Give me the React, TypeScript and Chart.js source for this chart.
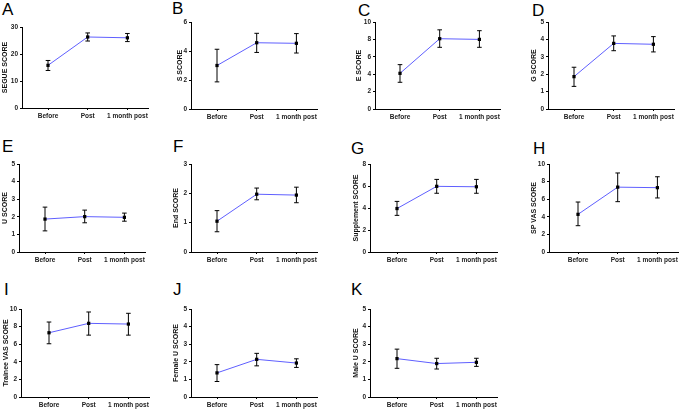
import React, { useEffect, useRef } from "react";
import { Chart, registerables } from "chart.js";

Chart.register(...registerables);

// ---------- data ----------
const categories = ["Before", "Post", "1 month post"];

const segueMean = [15.8, 26.3, 26.0];
const segueLower = [13.9, 24.8, 24.6];
const segueUpper = [17.6, 27.8, 27.6];

const sMean = [3.0, 4.57, 4.53];
const sLower = [1.87, 3.9, 3.86];
const sUpper = [4.12, 5.22, 5.2];

const eMean = [4.1, 8.08, 8.0];
const eLower = [3.07, 7.09, 7.09];
const eUpper = [5.1, 9.1, 9.0];

const gMean = [1.86, 3.77, 3.72];
const gLower = [1.3, 3.35, 3.28];
const gUpper = [2.4, 4.2, 4.16];

const uMean = [1.87, 2.01, 1.97];
const uLower = [1.2, 1.66, 1.75];
const uUpper = [2.55, 2.38, 2.21];

const endMean = [1.05, 1.97, 1.94];
const endLower = [0.69, 1.78, 1.68];
const endUpper = [1.41, 2.18, 2.21];

const suppMean = [3.95, 5.97, 5.93];
const suppLower = [3.33, 5.34, 5.34];
const suppUpper = [4.6, 6.6, 6.6];

const spVasMean = [4.28, 7.37, 7.31];
const spVasLower = [2.99, 5.72, 6.14];
const spVasUpper = [5.68, 8.98, 8.55];

const traineeVasMean = [7.3, 8.37, 8.29];
const traineeVasLower = [6.05, 7.03, 7.03];
const traineeVasUpper = [8.52, 9.66, 9.51];

const femaleUMean = [1.37, 2.14, 1.93];
const femaleULower = [0.88, 1.77, 1.68];
const femaleUUpper = [1.84, 2.48, 2.17];

const maleUMean = [2.18, 1.9, 1.97];
const maleULower = [1.63, 1.59, 1.74];
const maleUUpper = [2.72, 2.2, 2.2];

const panelLetters = ["A", "B", "C", "D", "E", "F", "G", "H", "I", "J", "K"];
const yTitles = [
  "SEGUE SCORE", "S SCORE", "E SCORE", "G SCORE",
  "U SCORE", "End SCORE", "Supplement SCORE", "SP VAS SCORE",
  "Trainee VAS SCORE", "Female U SCORE", "Male U SCORE",
];
const yMaxes = [30, 6, 10, 5, 5, 3, 8, 10, 10, 5, 5];
const ySteps = [10, 2, 2, 1, 1, 1, 2, 2, 2, 1, 1];

const means = [segueMean, sMean, eMean, gMean, uMean, endMean, suppMean, spVasMean, traineeVasMean, femaleUMean, maleUMean];
const lowers = [segueLower, sLower, eLower, gLower, uLower, endLower, suppLower, spVasLower, traineeVasLower, femaleULower, maleULower];
const uppers = [segueUpper, sUpper, eUpper, gUpper, uUpper, endUpper, suppUpper, spVasUpper, traineeVasUpper, femaleUUpper, maleUUpper];

// ---------- layout (page pixels) ----------
const W = 685;
const H = 409;
const CH = 430; // canvas height (extra room below, clipped by container)
const X_AXIS_H = 16;
const SPACING = 39.7;
type Geo = { axisX: number; beforeX: number; top: number; bottom: number; titleX: number; lx: number; ly: number };
const geos: Geo[] = [
  { axisX: 22, beforeX: 48, top: 27, bottom: 108, titleX: 5, lx: 2, ly: 3 },
  { axisX: 191, beforeX: 217, top: 22, bottom: 109, titleX: 180.5, lx: 172, ly: 2 },
  { axisX: 375, beforeX: 400, top: 22, bottom: 109, titleX: 359.3, lx: 358, ly: 4 },
  { axisX: 548, beforeX: 574, top: 22, bottom: 109, titleX: 534, lx: 532, ly: 4 },
  { axisX: 19, beforeX: 45, top: 164, bottom: 252, titleX: 5.3, lx: 2, ly: 140 },
  { axisX: 191, beforeX: 217, top: 164, bottom: 252, titleX: 176, lx: 173, ly: 140 },
  { axisX: 370, beforeX: 397, top: 164, bottom: 252, titleX: 356.3, lx: 351, ly: 142 },
  { axisX: 549, beforeX: 578, top: 164, bottom: 252, titleX: 534.5, lx: 533, ly: 142 },
  { axisX: 21, beforeX: 49, top: 309, bottom: 397, titleX: 5.7, lx: 4, ly: 283 },
  { axisX: 191, beforeX: 217, top: 309, bottom: 397, titleX: 176, lx: 173, ly: 283 },
  { axisX: 370, beforeX: 397, top: 309, bottom: 397, titleX: 356, lx: 351, ly: 283 },
];

const FONT = "'Liberation Sans', Arial, Helvetica, sans-serif";
const LINE_COLOR = "rgb(95,95,255)";

function Panel({ idx }: { idx: number }) {
  const ref = useRef<HTMLCanvasElement | null>(null);
  useEffect(() => {
    const g = geos[idx];
    const xMin = -(g.beforeX - g.axisX) / SPACING;
    const xMax = 2 + 21 / SPACING;
    const right = g.axisX + (xMax - xMin) * SPACING;
    const titleSize = 7;
    const padLeft = g.titleX - titleSize / 2;
    const yWidth = g.axisX - padLeft;
    const lower = lowers[idx];
    const upper = uppers[idx];
    const mean = means[idx];

    const errPlugin = {
      id: "errbars",
      beforeDatasetsDraw(chart: any) {
        const ctx = chart.ctx;
        const xs = chart.scales.x;
        const ys = chart.scales.y;
        ctx.save();
        ctx.strokeStyle = "#000";
        ctx.lineWidth = 1;
        for (let i = 0; i < mean.length; i++) {
          const px = xs.getPixelForValue(i);
          const yl = ys.getPixelForValue(lower[i]);
          const yu = ys.getPixelForValue(upper[i]);
          const cap = 2.3;
          ctx.beginPath();
          ctx.moveTo(px, yl);
          ctx.lineTo(px, yu);
          ctx.moveTo(px - cap, yl);
          ctx.lineTo(px + cap, yl);
          ctx.moveTo(px - cap, yu);
          ctx.lineTo(px + cap, yu);
          ctx.stroke();
        }
        ctx.restore();
      },
    };

    const chart = new Chart(ref.current as HTMLCanvasElement, {
      type: "line",
      data: {
        datasets: [
          {
            data: mean.map((v, i) => ({ x: i, y: v })),
            borderColor: LINE_COLOR,
            borderWidth: 1,
            pointStyle: "rect",
            pointRadius: 2.3,
            pointBackgroundColor: "#000",
            pointBorderColor: "#000",
            pointBorderWidth: 0,
            tension: 0,
            clip: false as any,
          },
        ],
      },
      options: {
        animation: false,
        responsive: false,
        events: [],
        layout: {
          padding: { left: padLeft, top: g.top, right: W - right, bottom: CH - g.bottom - X_AXIS_H },
        },
        plugins: { legend: { display: false }, tooltip: { enabled: false } },
        scales: {
          x: {
            type: "linear",
            min: xMin,
            max: xMax,
            afterBuildTicks: (s: any) => {
              s.ticks = [0, 1, 2].map((v) => ({ value: v }));
            },
            afterFit: (s: any) => {
              s.height = X_AXIS_H;
            },
            ticks: {
              autoSkip: false,
              maxRotation: 0,
              padding: 2,
              color: "#222",
              font: { family: FONT, size: 6.5, weight: "bold" },
              callback: (v: any) => categories[v as number] ?? "",
            },
            grid: { display: true, drawOnChartArea: false, drawTicks: true, tickLength: 2, color: "#000", lineWidth: 1 },
            border: { display: true, color: "#000", width: 1 },
          },
          y: {
            type: "linear",
            min: 0,
            max: yMaxes[idx],
            afterFit: (s: any) => {
              s.width = yWidth;
            },
            ticks: {
              stepSize: ySteps[idx],
              padding: 2,
              color: "#222",
              font: { family: FONT, size: 6.5, weight: "bold" },
            },
            title: {
              display: true,
              text: yTitles[idx],
              color: "#111",
              padding: 0,
              font: { family: FONT, size: titleSize, weight: "bold", lineHeight: 1 },
            },
            grid: { display: true, drawOnChartArea: false, drawTicks: true, tickLength: 2, color: "#000", lineWidth: 1 },
            border: { display: true, color: "#000", width: 1 },
          },
        },
      },
      plugins: [errPlugin],
    } as any);
    return () => chart.destroy();
  }, [idx]);
  return (
    <canvas
      ref={ref}
      width={W}
      height={CH}
      style={{ position: "absolute", left: 0, top: 0, width: W, height: CH }}
    />
  );
}

export default function App() {
  return (
    <div
      style={{
        position: "fixed",
        left: 0,
        top: 0,
        width: W,
        height: H,
        background: "#fff",
        overflow: "hidden",
      }}
    >
      {geos.map((g, i) => (
        <div
          key={"l" + i}
          style={{
            position: "absolute",
            left: g.lx,
            top: g.ly - 2.2,
            fontFamily: FONT,
            fontSize: 17,
            lineHeight: 1,
            color: "#000",
          }}
        >
          {panelLetters[i]}
        </div>
      ))}
      {geos.map((_, i) => (
        <Panel key={i} idx={i} />
      ))}
    </div>
  );
}
